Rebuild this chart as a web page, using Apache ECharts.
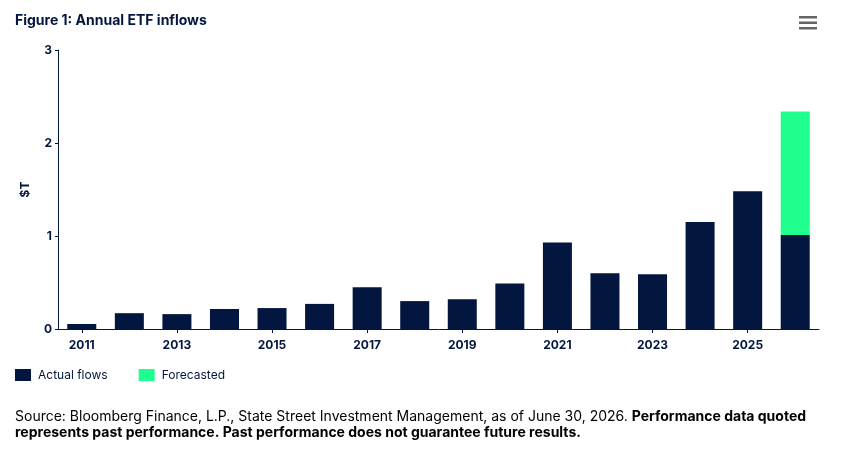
<!DOCTYPE html>
<html>
<head>
<meta charset="utf-8">
<script src="https://cdn.jsdelivr.net/npm/echarts@6/dist/echarts.min.js"></script>
<style>
html,body{margin:0;padding:0;background:#fff;}
#chart{width:841px;height:460px;}
</style>
</head>
<body>
<div id="chart"></div>
<script>
var years = ['2011','2012','2013','2014','2015','2016','2017','2018','2019','2020','2021','2022','2023','2024','2025','2026'];
var actualFlows = [0.054,0.17,0.16,0.215,0.225,0.27,0.45,0.30,0.32,0.49,0.93,0.60,0.59,1.15,1.48,1.01];
var forecasted = [null,null,null,null,null,null,null,null,null,null,null,null,null,null,null,1.33];
var yTicks = [0,1,2,3];

var NAVY = '#02163F';
var GREEN = '#1FFF8E';
var FONT = 'Inter, "Noto Sans", sans-serif';

var chart = echarts.init(document.getElementById('chart'), null, {renderer:'canvas'});
chart.setOption({
  animation:false,
  backgroundColor:'#fff',
  title:{
    text:'Figure 1: Annual ETF inflows',
    left:10, top:9,
    textStyle:{fontFamily:FONT,fontSize:14,fontWeight:'bold',color:NAVY}
  },
  legend:{
    left:15, top:369, padding:0,
    itemWidth:16, itemHeight:12, itemGap:31,
    icon:'rect',
    textStyle:{fontFamily:FONT,fontSize:12,color:NAVY,padding:[0,0,0,2]},
    data:['Actual flows','Forecasted']
  },
  grid:{left:58,right:22,top:50,bottom:131,containLabel:false},
  xAxis:{
    type:'category',
    data:years,
    axisLine:{show:true,lineStyle:{color:NAVY,width:1}},
    axisTick:{show:true,alignWithLabel:true,interval:1,length:4,lineStyle:{color:NAVY}},
    axisLabel:{interval:1,margin:10,fontFamily:FONT,fontSize:12,fontWeight:'bold',color:NAVY}
  },
  yAxis:{
    type:'value',
    min:yTicks[0], max:yTicks[yTicks.length-1], interval:1,
    name:'$T',
    nameLocation:'middle',
    nameGap:27,
    nameRotate:90,
    nameTextStyle:{fontFamily:FONT,fontSize:12,fontWeight:'bold',color:NAVY},
    splitLine:{show:false},
    axisLine:{show:true,lineStyle:{color:NAVY,width:1}},
    axisTick:{show:true,length:3,lineStyle:{color:NAVY}},
    axisLabel:{margin:6,fontFamily:FONT,fontSize:12,fontWeight:'bold',color:NAVY}
  },
  series:[
    {name:'Actual flows',type:'bar',stack:'flows',data:actualFlows,itemStyle:{color:NAVY},barCategoryGap:'39%'},
    {name:'Forecasted',type:'bar',stack:'flows',data:forecasted,itemStyle:{color:GREEN},barCategoryGap:'39%'}
  ],
  graphic:[
    {type:'rect',left:799,top:16,shape:{width:18,height:2.5},style:{fill:'#666'}},
    {type:'rect',left:799,top:21.5,shape:{width:18,height:2.5},style:{fill:'#666'}},
    {type:'rect',left:799,top:27,shape:{width:18,height:2.5},style:{fill:'#666'}},
    {type:'text',left:15,top:410,
      style:{
        text:'{n|Source: Bloomberg Finance, L.P., State Street Investment Management, as of June 30, 2026. }{b|Performance data quoted}\n{b|represents past performance. Past performance does not guarantee future results.}',
        rich:{
          n:{fontFamily:FONT,fontSize:14,color:'#1c1c2e',lineHeight:16},
          b:{fontFamily:FONT,fontSize:14,fontWeight:'bold',color:'#0c1330',lineHeight:16}
        }
      }
    }
  ]
});
</script>
</body>
</html>
